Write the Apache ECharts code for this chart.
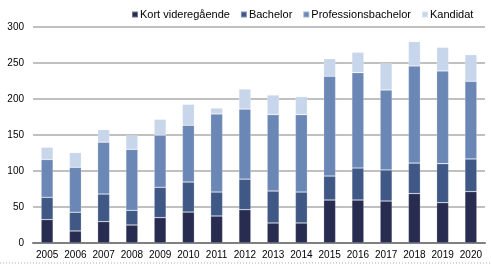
<!DOCTYPE html>
<html><head><meta charset="utf-8">
<script src="https://cdn.jsdelivr.net/npm/echarts@6/dist/echarts.min.js"></script>
<style>html,body{margin:0;padding:0;background:#fff}#c{width:491px;height:264px}</style>
</head><body><div id="c"></div>
<script>
const years = ['2005','2006','2007','2008','2009','2010','2011','2012','2013','2014','2015','2016','2017','2018','2019','2020'];
const kort = [32.5,16.7,29.7,25.0,35.2,43.0,37.5,46.3,27.8,27.8,59.7,59.7,58.3,68.6,56.0,71.4];
const bachelor = [31.0,26.0,38.3,20.4,42.2,41.7,33.3,42.4,44.4,43.0,33.3,44.5,43.1,42.4,54.2,45.3];
const profbachelor = [52.5,62.4,72.0,84.6,72.2,78.8,108.4,97.3,106.1,107.5,138.5,132.5,111.1,134.8,128.7,107.9];
const kandidat = [17.0,20.5,17.5,19.6,22.2,29.1,8.3,27.9,27.3,25.0,24.5,28.2,37.1,33.9,32.9,37.0];
const yTicks = [0,50,100,150,200,250,300];
const names = ['Kort videregående','Bachelor','Professionsbachelor','Kandidat'];
const colors = ['#272c50','#3f5886','#6b87b6','#c7d6ea'];
const seriesData = [kort, bachelor, profbachelor, kandidat];

const chart = echarts.init(document.getElementById('c'), null, {renderer:'canvas'});
chart.setOption({
  animation:false,
  textStyle:{fontFamily:'Liberation Sans, Arial, sans-serif'},
  legend:{
    data:names, top:9, left:131, width:400, padding:0, icon:'rect', itemWidth:6, itemHeight:6, itemGap:10,
    textStyle:{fontSize:11, color:'#000', padding:[0,0,0,-3]}
  },
  grid:{left:33, right:6, top:27, bottom:21, containLabel:false},
  xAxis:{
    type:'category', data:years,
    axisLine:{lineStyle:{color:'#7f7f7f', width:2}},
    axisTick:{show:false},
    axisLabel:{fontSize:10, color:'#000', margin:7, interval:0}
  },
  yAxis:{
    type:'value', min:0, max:300, interval:50,
    axisLine:{show:false}, axisTick:{show:false},
    splitLine:{lineStyle:{color:'#c0c0c0', width:2}},
    axisLabel:{fontSize:10, color:'#000', margin:9,
      formatter:v=> yTicks.includes(v) ? String(v) : ''}
  },
  graphic:[{type:'line', shape:{x1:0,y1:263,x2:491,y2:263}, style:{stroke:'#b0b0b0', lineWidth:1, lineDash:[1,2]}}],
  series: names.map((n,i)=>({
    name:n, type:'bar', stack:'total', data:seriesData[i], barWidth:12,
    itemStyle:{color:colors[i], borderColor:'rgba(255,255,255,0.35)', borderWidth:0.6}
  }))
});
</script></body></html>
